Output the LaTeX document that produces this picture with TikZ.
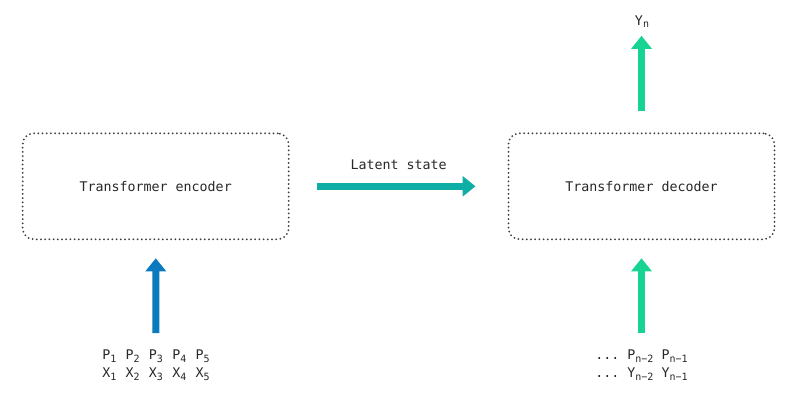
\documentclass[tikz,border=0pt]{standalone}
\usepackage{fontspec}
\setmainfont{DejaVu Sans Mono}
\usetikzlibrary{arrows.meta}
\definecolor{encblue}{RGB}{10,122,190}
\definecolor{decgreen}{RGB}{24,212,146}
\definecolor{latteal}{RGB}{14,174,166}
\definecolor{txt}{RGB}{40,40,40}
\definecolor{dotc}{RGB}{60,60,60}
\tikzset{
  tbox/.style={draw=dotc, line width=2pt, dash pattern=on 0pt off 4.2pt, line cap=round,
    rounded corners=11pt, minimum width=266pt, minimum height=106pt, inner sep=0pt,
    font=\fontsize{13.3}{16}\selectfont, text=txt},
  lbl/.style={font=\fontsize{13.3}{18}\selectfont, text=txt, inner sep=0pt, align=center},
  fat/.style={line width=7pt, -{Triangle[width=20pt,length=13pt]}},
}
\newcommand{\sbs}[1]{\raisebox{-2.6pt}{\fontsize{10}{10}\selectfont #1}}
\begin{document}
\begin{tikzpicture}[x=1pt,y=-1pt]
\useasboundingbox[fill=white] (0,0) rectangle (800,400);
\node[tbox] (enc) at (155.7,186.3) {Transformer encoder};
\node[tbox] (dec) at (641.5,186.3) {Transformer decoder};
\node[lbl, anchor=north] (xin) at (156,350) {P\sbs{1}\kern1.3pt\ P\sbs{2}\kern1.3pt\ P\sbs{3}\kern1.3pt\ P\sbs{4}\kern1.3pt\ P\sbs{5}\\X\sbs{1}\kern1.3pt\ X\sbs{2}\kern1.3pt\ X\sbs{3}\kern1.3pt\ X\sbs{4}\kern1.3pt\ X\sbs{5}};
\node[lbl, anchor=north] (yin) at (641.5,350) {...\ P\sbs{n−2}\ P\sbs{n−1}\\...\ Y\sbs{n−2}\ Y\sbs{n−1}};
\node[lbl, anchor=base] (yout) at (642,25) {Y\sbs{n}};
\draw[fat, encblue, shorten <=17pt, shorten >=18pt] (xin.north) -- (enc.south);
\draw[fat, decgreen, shorten <=17pt, shorten >=18pt] (yin.north -| dec.south) -- (dec.south);
\draw[fat, decgreen, shorten <=21pt, shorten >=8pt] (dec.north) -- (yout.south -| dec.north);
\draw[fat, latteal, shorten <=27pt, shorten >=32pt] (enc.east) -- node[lbl, above=13pt] (lat) {Latent state} (dec.west);
\end{tikzpicture}
\end{document}
